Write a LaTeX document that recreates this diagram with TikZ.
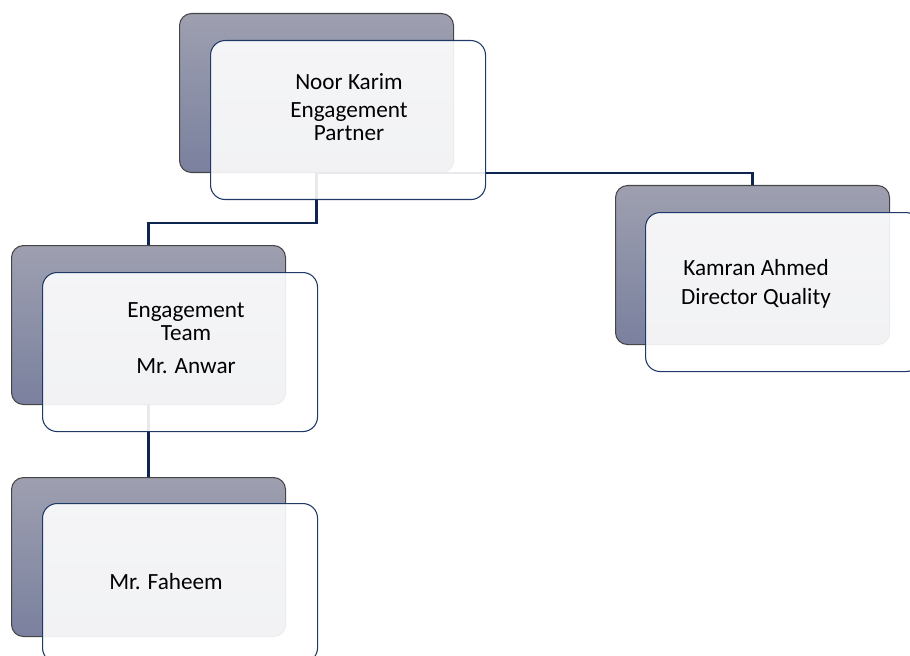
\documentclass[tikz,border=0pt]{standalone}
\usepackage{fontspec}
\setmainfont{Carlito}
\usetikzlibrary{positioning}
\definecolor{boxnavy}{HTML}{1F3A68}
\definecolor{linknavy}{HTML}{0E2550}
\definecolor{backtop}{HTML}{9EA0B0}
\definecolor{backbot}{HTML}{7A809E}

\begin{document}
\begin{tikzpicture}[x=0.75pt,y=-0.75pt,
    backbox/.style={draw=gray!55!black, line width=0.8pt, rounded corners=9pt,
        top color=backtop, bottom color=backbot, anchor=north west,
        minimum width=205.5pt, minimum height=119.25pt, inner sep=0pt},
    frontbox/.style={draw=boxnavy, line width=0.8pt, fill=white, fill opacity=0.9,
        draw opacity=1, rounded corners=11pt, anchor=north west,
        minimum width=206.25pt, minimum height=119.25pt, inner sep=0pt},
    link/.style={draw=linknavy, line width=2pt},
    boxtext/.style={font=\fontsize{17.4}{17.3}\selectfont, align=center, text=black}]
    \useasboundingbox (0,0) rectangle (910,656);
    \clip (0,0) rectangle (910,656);

    % back boxes
    \node[backbox] (noorback) at (179,13) {};
    \node[backbox] (kamranback) at (615,185) {};
    \node[backbox] (teamback) at (11,245) {};
    \node[backbox] (faheemback) at (11,477) {};

    % connectors
    \draw[link] (noorback.south) -- ++(0,50) -| (teamback.north);
    \draw[link] (noorback.south) -| (kamranback.north);
    \draw[link] (teamback.south) -- (faheemback.north);

    % front boxes
    \node[frontbox] (noor) at ([shift={(31,27)}]noorback.north west) {};
    \node[frontbox] (kamran) at ([shift={(30,27)}]kamranback.north west) {};
    \node[frontbox] (team) at ([shift={(31,27)}]teamback.north west) {};
    \node[frontbox] (faheem) at ([shift={(31,26)}]faheemback.north west) {};

    % texts
    \node[boxtext] (noortext) at (349,107) {Noor Karim\\[4pt]Engagement\\Partner};
    \node[boxtext] (kamrantext) at (756,284) {Kamran Ahmed\\[4pt]Director Quality};
    \node[boxtext] (teamtext) at (186,338) {Engagement\\Team\\[7pt]Mr. Anwar};
    \node[boxtext] (faheemtext) at (166,582) {Mr. Faheem};
\end{tikzpicture}
\end{document}
